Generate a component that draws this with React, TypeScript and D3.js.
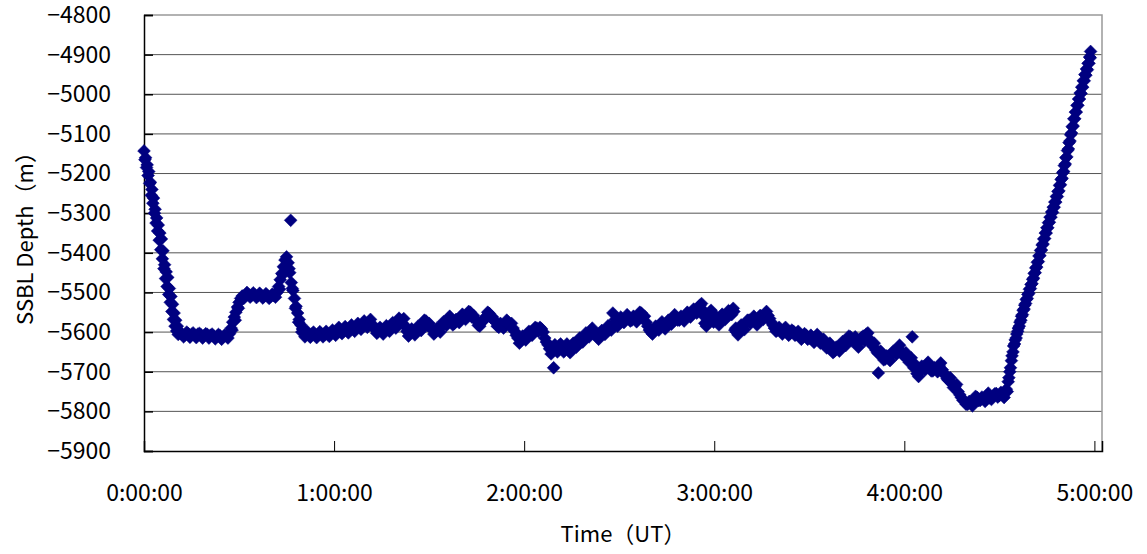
import React, { useEffect, useRef } from "react";
import * as d3 from "d3";

// [minutes since 0:00:00, SSBL depth (m)]
const descent: [number, number][] = [
  [0, -5143], [0.5, -5160], [1, -5178], [1.5, -5195], [2, -5222], [2.5, -5240],
  [3, -5262], [3.5, -5290], [4, -5312], [4.5, -5330], [5, -5350], [5.5, -5365],
  [6, -5395], [6.5, -5430], [7, -5448], [7.5, -5462], [8, -5490], [8.5, -5510],
  [9, -5530], [9.5, -5552], [10, -5570], [10.5, -5585], [11, -5596], [11.5, -5603],
  [12, -5606],
];

const firstHour: [number, number][] = [
  [13, -5607], [14, -5604], [15, -5606], [16, -5608], [17, -5605], [18, -5607],
  [19, -5609], [20, -5606], [21, -5608], [22, -5610], [23, -5611], [24, -5609],
  [25, -5612], [26, -5610], [27, -5604], [27.5, -5590], [28, -5575], [28.5, -5562],
  [29, -5550], [29.5, -5537], [30, -5525], [30.5, -5515], [31, -5509], [32, -5506],
  [33, -5505], [34, -5507], [35, -5506], [36, -5508], [37, -5507], [38, -5509],
  [39, -5508], [40, -5510], [41, -5508], [42, -5500], [42.5, -5485], [43, -5468],
  [43.5, -5452], [44, -5435], [44.5, -5418], [45, -5410], [45.5, -5425], [46, -5450],
  [46.3, -5318], [46.5, -5475], [47, -5495], [47.5, -5515], [48, -5535], [48.5, -5552],
  [49, -5568], [49.5, -5582], [50, -5592], [50.5, -5600], [51, -5605], [52, -5607],
  [53, -5605], [54, -5608], [55, -5606], [56, -5604], [57, -5607], [58, -5605],
  [59, -5603], [60, -5600],
];

const secondHour: [number, number][] = [
  [61, -5598], [62, -5596], [63, -5597], [64, -5594], [65, -5592], [66, -5590],
  [67, -5588], [68, -5585], [69, -5582], [70, -5578], [71, -5574], [72, -5580],
  [73, -5592], [74, -5598], [75, -5596], [76, -5593], [77, -5590], [78, -5585],
  [79, -5580], [80, -5575], [81, -5570], [82, -5566], [83, -5598], [84, -5604],
  [85, -5600], [86, -5595], [87, -5588], [88, -5580], [89, -5572], [90, -5578],
  [91, -5592], [92, -5600], [93, -5592], [94, -5584], [95, -5575], [96, -5566],
  [97, -5572], [98, -5578], [99, -5570], [100, -5565], [101, -5560], [102, -5556],
  [103, -5550], [104, -5558], [105, -5572], [106, -5585], [107, -5572], [108, -5560],
  [109, -5553], [110, -5562], [111, -5575], [112, -5588], [113, -5583], [114, -5578],
  [115, -5575], [116, -5578], [117, -5598], [118, -5615], [119, -5620], [120, -5612],
];

const thirdHour: [number, number][] = [
  [121, -5605], [122, -5600], [123, -5595], [124, -5590], [125, -5588], [126, -5600],
  [127, -5625], [128, -5642], [129, -5648], [129.3, -5690], [130, -5640], [131, -5635],
  [132, -5642], [133, -5638], [134, -5645], [135, -5635], [136, -5630], [137, -5625],
  [138, -5618], [139, -5612], [140, -5605], [141, -5596], [142, -5600], [143, -5612],
  [144, -5605], [145, -5598], [146, -5592], [147, -5585], [148, -5552], [148.5, -5580],
  [149, -5578], [150, -5572], [151, -5568], [152, -5565], [153, -5562], [154, -5570],
  [155, -5565], [156, -5558], [157, -5552], [158, -5560], [159, -5585], [160, -5600],
  [161, -5595], [162, -5588], [163, -5580], [164, -5585], [165, -5578], [166, -5572],
  [167, -5566], [168, -5562], [169, -5570], [170, -5565], [171, -5560], [172, -5555],
  [173, -5550], [174, -5545], [175, -5538], [176, -5528], [176.5, -5545], [177, -5578],
  [178, -5570], [179, -5545], [179.5, -5560], [180, -5568],
];

const fourthHour: [number, number][] = [
  [181, -5575], [182, -5565], [183, -5560], [184, -5555], [185, -5548], [186, -5540],
  [186.5, -5595], [187, -5600], [188, -5590], [189, -5585], [190, -5578], [191, -5570],
  [192, -5568], [193, -5575], [194, -5566], [195, -5560], [196, -5555], [197, -5558],
  [198, -5575], [199, -5590], [200, -5595], [201, -5598], [202, -5595], [203, -5600],
  [204, -5603], [205, -5598], [206, -5605], [207, -5610], [208, -5612], [209, -5608],
  [210, -5615], [211, -5618], [212, -5612], [213, -5620], [214, -5625], [215, -5630],
  [216, -5636], [217, -5642], [218, -5648], [219, -5640], [220, -5632], [221, -5625],
  [222, -5618], [223, -5612], [224, -5620], [225, -5630], [226, -5620], [227, -5610],
  [228, -5605], [229, -5618], [230, -5635], [231, -5645], [231.8, -5703], [232, -5655],
  [233, -5662], [234, -5668], [235, -5665], [236, -5655], [237, -5648], [238, -5640],
  [239, -5650], [240, -5660],
];

const bottomTurn: [number, number][] = [
  [241, -5668], [242, -5675], [242.5, -5612], [243, -5690], [244, -5705], [245, -5695],
  [246, -5688], [247, -5682], [248, -5690], [249, -5698], [250, -5692], [251, -5685],
  [252, -5695], [253, -5710], [254, -5722], [255, -5730], [256, -5738], [257, -5750],
  [258, -5765], [259, -5775], [260, -5782], [261, -5778], [262, -5770], [263, -5765],
  [264, -5772], [265, -5768], [266, -5760], [267, -5766], [268, -5762], [269, -5755],
  [270, -5760], [271, -5758], [272, -5752],
];

const ascent: [number, number][] = [
  [272.5, -5750], [273, -5715], [273.5, -5690], [274, -5660], [274.5, -5635], [275, -5620],
  [275.5, -5605], [276, -5590], [276.5, -5575], [277, -5560], [277.5, -5545], [278, -5532],
  [278.5, -5518], [279, -5505], [279.5, -5492], [280, -5480], [280.5, -5467], [281, -5452],
  [281.5, -5438], [282, -5424], [282.5, -5408], [283, -5394], [283.5, -5380], [284, -5365],
  [284.5, -5350], [285, -5337], [285.5, -5324], [286, -5310], [286.5, -5297], [287, -5285],
  [287.5, -5272], [288, -5258], [288.5, -5245], [289, -5230], [289.5, -5215], [290, -5198],
  [290.5, -5180], [291, -5160], [291.5, -5142], [292, -5122], [292.5, -5102], [293, -5082],
  [293.5, -5062], [294, -5045], [294.5, -5028], [295, -5012], [295.5, -4997], [296, -4982],
  [296.5, -4966], [297, -4950], [297.5, -4936], [298, -4922], [298.5, -4906], [298.8, -4892],
];

// in-between fixes, scattered around the main track
const scatterEarly: [number, number][] = [
  [0.3, -5165], [0.8, -5185], [1.3, -5205], [1.8, -5225], [2.3, -5255], [2.8, -5275],
  [3.3, -5300], [3.8, -5325], [4.3, -5345], [4.8, -5368], [5.3, -5392], [5.8, -5415],
  [6.3, -5440], [6.8, -5465], [7.3, -5485], [7.8, -5505], [8.3, -5525], [8.8, -5548],
  [9.3, -5568], [9.8, -5585], [10.3, -5597], [10.8, -5606],
  [12.5, -5612], [13.5, -5600], [14.5, -5613], [15.5, -5602], [16.5, -5614], [17.5, -5603],
  [18.5, -5615], [19.5, -5604], [20.5, -5615], [21.5, -5605], [22.5, -5617], [23.5, -5606],
  [24.5, -5618], [25.5, -5607], [26.5, -5615], [27.8, -5595], [28.8, -5570], [29.8, -5540],
  [31.5, -5515], [32.5, -5500], [33.5, -5512], [34.5, -5501], [35.5, -5513], [36.5, -5502],
  [37.5, -5514], [38.5, -5503], [39.5, -5515], [40.5, -5504], [41.5, -5512], [42.8, -5492],
  [43.8, -5455], [44.8, -5435], [45.8, -5440], [46.8, -5490], [47.8, -5540], [48.8, -5575],
  [49.8, -5600], [50.8, -5612], [51.5, -5598], [52.5, -5613], [53.5, -5600], [54.5, -5614],
  [55.5, -5599], [56.5, -5612], [57.5, -5598], [58.5, -5611], [59.5, -5595],
];

const scatterMid: [number, number][] = [
  [60.5, -5608], [61.5, -5588], [62.5, -5604], [63.5, -5586], [64.5, -5602], [65.5, -5582],
  [66.5, -5598], [67.5, -5578], [68.5, -5593], [69.5, -5572], [70.5, -5588], [71.5, -5568],
  [72.5, -5590], [73.5, -5603], [74.5, -5588], [75.5, -5605], [76.5, -5584], [77.5, -5598],
  [78.5, -5576], [79.5, -5590], [80.5, -5565], [81.5, -5578], [82.5, -5585], [83.5, -5610],
  [84.5, -5592], [85.5, -5607], [86.5, -5585], [87.5, -5596], [88.5, -5570], [89.5, -5583],
  [90.5, -5590], [91.5, -5605], [92.5, -5590], [93.5, -5600], [94.5, -5574], [95.5, -5583],
  [96.5, -5560], [97.5, -5582], [98.5, -5568], [99.5, -5576], [100.5, -5555], [101.5, -5568],
  [102.5, -5548], [103.5, -5562], [104.5, -5566], [105.5, -5583], [106.5, -5575], [107.5, -5568],
  [108.5, -5550], [109.5, -5563], [110.5, -5570], [111.5, -5585], [112.5, -5578], [113.5, -5590],
  [114.5, -5570], [115.5, -5585], [116.5, -5590], [117.5, -5608], [118.5, -5628], [119.5, -5610],
  [120.5, -5620], [121.5, -5598], [122.5, -5608], [123.5, -5588], [124.5, -5598], [125.5, -5592],
  [126.5, -5615], [127.5, -5632], [128.5, -5655], [129.7, -5632], [130.5, -5650], [131.5, -5630],
  [132.5, -5650], [133.5, -5630], [134.5, -5652], [135.5, -5628], [136.5, -5638], [137.5, -5615],
  [138.5, -5625], [139.5, -5602], [140.5, -5612], [141.5, -5590], [142.5, -5608], [143.5, -5618],
  [144.5, -5596], [145.5, -5606], [146.5, -5584], [147.5, -5595], [148.8, -5568], [149.5, -5585],
  [150.5, -5562], [151.5, -5576], [152.5, -5556], [153.5, -5572], [154.5, -5560], [155.5, -5574],
  [156.5, -5550], [157.5, -5562], [158.5, -5575], [159.5, -5595], [160.5, -5605], [161.5, -5585],
  [162.5, -5595], [163.5, -5574], [164.5, -5592], [165.5, -5570], [166.5, -5580], [167.5, -5556],
  [168.5, -5570], [169.5, -5560], [170.5, -5572], [171.5, -5550], [172.5, -5562], [173.5, -5542],
  [174.5, -5552], [175.5, -5532], [176.8, -5560], [177.5, -5585], [178.5, -5558], [179.8, -5575],
];

const scatterLate: [number, number][] = [
  [180.5, -5560], [181.5, -5582], [182.5, -5555], [183.5, -5568], [184.5, -5546], [185.5, -5556],
  [186.2, -5548], [186.8, -5590], [187.5, -5607], [188.5, -5582], [189.5, -5594], [190.5, -5570],
  [191.5, -5578], [192.5, -5560], [193.5, -5582], [194.5, -5558], [195.5, -5568], [196.5, -5548],
  [197.5, -5566], [198.5, -5582], [199.5, -5598], [200.5, -5588], [201.5, -5605], [202.5, -5588],
  [203.5, -5608], [204.5, -5595], [205.5, -5608], [206.5, -5598], [207.5, -5618], [208.5, -5604],
  [209.5, -5618], [210.5, -5608], [211.5, -5626], [212.5, -5606], [213.5, -5628], [214.5, -5618],
  [215.5, -5640], [216.5, -5628], [217.5, -5652], [218.5, -5638], [219.5, -5648], [220.5, -5624],
  [221.5, -5634], [222.5, -5610], [223.5, -5622], [224.5, -5612], [225.5, -5638], [226.5, -5614],
  [227.5, -5622], [228.5, -5602], [229.5, -5628], [230.5, -5628], [231.5, -5652], [232.5, -5648],
  [233.5, -5670], [234.5, -5660], [235.5, -5672], [236.5, -5648], [237.5, -5656], [238.5, -5633],
  [239.5, -5658], [240.5, -5652], [241.5, -5676], [242.2, -5665], [243.5, -5682], [244.5, -5712],
  [245.5, -5686], [246.5, -5696], [247.5, -5676], [248.5, -5698], [249.5, -5690], [250.5, -5700],
  [251.5, -5678], [252.5, -5703], [253.5, -5718], [254.5, -5715], [255.5, -5740], [256.5, -5732],
  [257.5, -5758], [258.5, -5772], [259.5, -5782], [260.5, -5775], [261.5, -5786], [262.5, -5762],
  [263.5, -5773], [264.5, -5764], [265.5, -5775], [266.5, -5754], [267.5, -5770], [268.5, -5756],
  [269.5, -5764], [270.5, -5752], [271.5, -5765], [272.2, -5744],
  [272.8, -5725], [273.3, -5700], [273.8, -5672], [274.3, -5650], [274.8, -5630], [275.3, -5615],
  [275.8, -5598], [276.3, -5585], [276.8, -5570], [277.3, -5556], [277.8, -5542], [278.3, -5528],
  [278.8, -5515], [279.3, -5502], [279.8, -5490], [280.3, -5478], [280.8, -5464], [281.3, -5450],
  [281.8, -5436], [282.3, -5422], [282.8, -5407], [283.3, -5393], [283.8, -5378], [284.3, -5364],
  [284.8, -5350], [285.3, -5337], [285.8, -5323], [286.3, -5310], [286.8, -5298], [287.3, -5285],
  [287.8, -5272], [288.3, -5258], [288.8, -5244], [289.3, -5228], [289.8, -5212], [290.3, -5195],
  [290.8, -5176], [291.3, -5158], [291.8, -5138], [292.3, -5118], [292.8, -5098], [293.3, -5080],
  [293.8, -5062], [294.3, -5045], [294.8, -5028], [295.3, -5012], [295.8, -4998], [296.3, -4982],
  [296.8, -4966], [297.3, -4952], [297.8, -4938], [298.3, -4922], [298.7, -4908],
];

const yTicks = [-5900, -5800, -5700, -5600, -5500, -5400, -5300, -5200, -5100, -5000, -4900, -4800];
const xTicks = [0, 60, 120, 180, 240, 300];
const xTickLabels = ["0:00:00", "1:00:00", "2:00:00", "3:00:00", "4:00:00", "5:00:00"];

const W = 1147;
const H = 554;
const left = 144;
const right = 1102;
const top = 15;
const bottom = 451;
const navy = "#000080";
const font = "'Noto Sans CJK JP', 'Noto Sans', sans-serif";

const App = () => {
  const svgRef = useRef<SVGSVGElement>(null);

  useEffect(() => {
    const svg = d3.select(svgRef.current);
    svg.selectAll("*").remove();

    const x = d3.scaleLinear().domain([0, 302.4]).range([left, right]);
    const y = d3.scaleLinear().domain([-5900, -4800]).range([bottom, top]);

    // gridlines
    svg
      .append("g")
      .selectAll("line")
      .data(yTicks.slice(1, -1))
      .enter()
      .append("line")
      .attr("x1", left)
      .attr("x2", right)
      .attr("y1", (d) => y(d))
      .attr("y2", (d) => y(d))
      .attr("stroke", "#555")
      .attr("stroke-width", 1);

    // plot frame (top/right gray)
    svg
      .append("path")
      .attr("d", `M${left},${top}H${right}V${bottom}`)
      .attr("fill", "none")
      .attr("stroke", "#999")
      .attr("stroke-width", 1.5);

    // axes
    const yAxis = d3
      .axisLeft(y)
      .tickValues(yTicks)
      .tickSize(-9)
      .tickPadding(33)
      .tickFormat((d) => String(d).replace("-", "\u2212"));
    const gy = svg.append("g").attr("transform", `translate(${left},0)`).call(yAxis);
    gy.select(".domain").attr("stroke", "#000").attr("stroke-width", 1.5);
    gy.selectAll(".tick line").attr("stroke", "#000").attr("stroke-width", 1.5);
    gy.selectAll(".tick text")
      .attr("fill", "#000")
      .attr("font-size", 23)
      .attr("font-family", font);

    const xAxis = d3
      .axisBottom(x)
      .tickValues(xTicks)
      .tickSize(-10)
      .tickPadding(34)
      .tickFormat((d, i) => xTickLabels[i]);
    const gx = svg.append("g").attr("transform", `translate(0,${bottom})`).call(xAxis);
    gx.select(".domain").attr("stroke", "#000").attr("stroke-width", 1.5);
    gx.selectAll(".tick line").attr("stroke", "#000").attr("stroke-width", 1);
    gx.selectAll(".tick text")
      .attr("fill", "#000")
      .attr("font-size", 23)
      .attr("font-family", font);

    // markers
    const all = [
      ...descent,
      ...firstHour,
      ...secondHour,
      ...thirdHour,
      ...fourthHour,
      ...bottomTurn,
      ...ascent,
      ...scatterEarly,
      ...scatterMid,
      ...scatterLate,
    ];
    const diamond = d3.symbol(d3.symbolSquare, 82)();
    svg
      .append("g")
      .selectAll("path")
      .data(all)
      .enter()
      .append("path")
      .attr("d", diamond)
      .attr("transform", (d) => `translate(${x(d[0])},${y(d[1])}) rotate(45)`)
      .attr("fill", navy)
      .attr("stroke", navy)
      .attr("stroke-width", 0.5);

    // axis titles
    svg
      .append("text")
      .attr("x", (left + right) / 2)
      .attr("y", 542)
      .attr("text-anchor", "middle")
      .attr("font-size", 22)
      .attr("font-family", font)
      .attr("fill", "#000")
      .text("Time（UT）");

    svg
      .append("text")
      .attr("transform", `translate(33,${(top + bottom) / 2}) rotate(-90)`)
      .attr("text-anchor", "middle")
      .attr("font-size", 22)
      .attr("font-family", font)
      .attr("fill", "#000")
      .text("SSBL Depth（m）");
  }, []);

  return (
    <svg
      ref={svgRef}
      width={W}
      height={H}
      style={{ position: "absolute", left: 0, top: 0, background: "#fff" }}
    />
  );
};

export default App;
